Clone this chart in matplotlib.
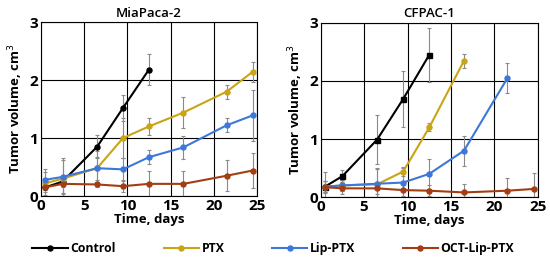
import matplotlib
matplotlib.use("Agg")
import matplotlib.pyplot as plt

plt.rcParams['font.family'] = ['Open Sans', 'DejaVu Sans']

days = [0.5, 2.5, 6.5, 9.5, 12.5, 16.5, 21.5, 24.5]
names = ['Control', 'PTX', 'Lip-PTX', 'OCT-Lip-PTX']
colors = ['#000000', '#C9A514', '#3D78D8', '#A33E14']

# MiaPaca-2
mia_mean = {
    'Control': [0.15, 0.25, 0.85, 1.52, 2.18],
    'PTX': [0.22, 0.30, 0.48, 1.00, 1.20, 1.44, 1.80, 2.14],
    'Lip-PTX': [0.28, 0.33, 0.48, 0.46, 0.67, 0.84, 1.22, 1.39],
    'OCT-Lip-PTX': [0.15, 0.21, 0.20, 0.17, 0.21, 0.21, 0.35, 0.44],
}
mia_err = {
    'Control': [0.08, 0.10, 0.20, 0.23, 0.27],
    'PTX': [0.20, 0.35, 0.20, 0.35, 0.15, 0.27, 0.12, 0.18],
    'Lip-PTX': [0.18, 0.30, 0.30, 0.20, 0.12, 0.20, 0.12, 0.44],
    'OCT-Lip-PTX': [0.05, 0.15, 0.05, 0.10, 0.22, 0.22, 0.27, 0.30],
}

# CFPAC-1
cf_mean = {
    'Control': [0.18, 0.36, 0.99, 1.69, 2.45],
    'PTX': [0.18, 0.20, 0.22, 0.44, 1.20, 2.35],
    'Lip-PTX': [0.18, 0.20, 0.23, 0.25, 0.40, 0.80, 2.05],
    'OCT-Lip-PTX': [0.17, 0.15, 0.15, 0.12, 0.11, 0.08, 0.11, 0.14],
}
cf_err = {
    'Control': [0.26, 0.10, 0.42, 0.48, 0.47],
    'PTX': [0.10, 0.10, 0.28, 0.07, 0.07, 0.12],
    'Lip-PTX': [0.10, 0.10, 0.25, 0.25, 0.26, 0.26, 0.26],
    'OCT-Lip-PTX': [0.10, 0.10, 0.10, 0.10, 0.10, 0.15, 0.22, 0.28],
}

fig = plt.figure(figsize=(5.5, 2.6), dpi=100)
ax1 = fig.add_axes([0.0745, 0.246, 0.3925, 0.669])
ax2 = fig.add_axes([0.583, 0.242, 0.395, 0.670])


def draw(ax, means, errs, title):
    for name, c in zip(names, colors):
        y = means[name]
        x = days[:len(y)]
        ax.errorbar(x, y, yerr=errs[name], fmt='none', ecolor='#8a8a8a',
                    elinewidth=0.8, capsize=1.5, capthick=0.8, zorder=2)
        mk = 's' if name == 'Control' and ax is ax2 else 'o'
        ax.plot(x, y, color=c, lw=1.5, marker=mk, ms=3.6, zorder=3, label=name)
    ax.set_xlim(0, 25)
    ax.set_ylim(0, 3)
    ax.set_xticks([0, 5, 10, 15, 20, 25])
    ax.set_yticks([0, 1, 2, 3])
    ax.grid(True, color='black', lw=0.8)
    ax.set_axisbelow(True)
    ax.tick_params(length=0, labelsize=11, pad=2)
    for lb in ax.get_xticklabels() + ax.get_yticklabels():
        lb.set_fontweight('bold')
    for s in ax.spines.values():
        s.set_linewidth(0.8)
    ax.set_title(title, fontsize=9.5, fontweight='semibold', pad=4)
    ax.set_xlabel('Time, days', fontsize=9.5, fontweight='bold', labelpad=0)
    ax.set_ylabel('Tumor volume, cm$^3$', fontsize=9.5, fontweight='bold', labelpad=3)


draw(ax1, mia_mean, mia_err, 'MiaPaca-2')
draw(ax2, cf_mean, cf_err, 'CFPAC-1')

handles, labels = ax1.get_legend_handles_labels()
fig.legend(handles, labels, loc='center', bbox_to_anchor=(0.497, 0.045), ncol=4,
           frameon=False, handlelength=2.9, handletextpad=0.2, columnspacing=3.9,
           prop={'weight': 'bold', 'size': 8.8})

fig.savefig('out.png', dpi=100)
